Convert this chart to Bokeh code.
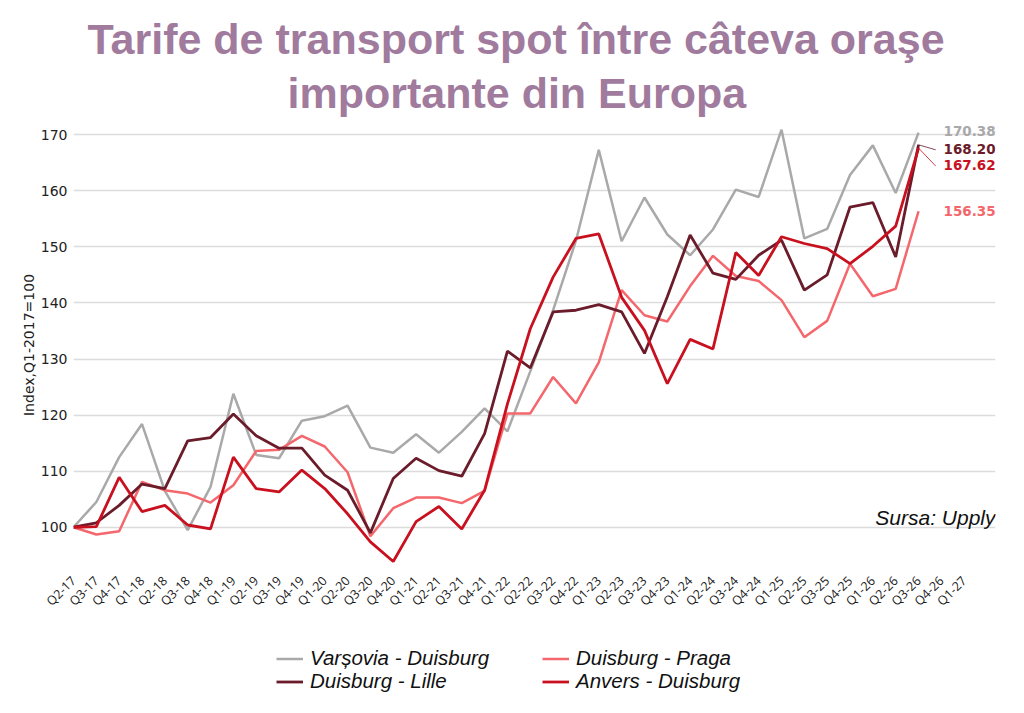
from math import pi
from bokeh.plotting import figure
from bokeh.layouts import column
from bokeh.models import (ColumnDataSource, FixedTicker, Legend, LegendItem,
                          Label, Title)
from bokeh.core.properties import value
from bokeh.embed import file_html
from bokeh.resources import INLINE

# ---------------- data ----------------
quarters = ["Q2-17", "Q3-17", "Q4-17", "Q1-18", "Q2-18", "Q3-18", "Q4-18",
            "Q1-19", "Q2-19", "Q3-19", "Q4-19", "Q1-20", "Q2-20", "Q3-20",
            "Q4-20", "Q1-21", "Q2-21", "Q3-21", "Q4-21", "Q1-22", "Q2-22",
            "Q3-22", "Q4-22", "Q1-23", "Q2-23", "Q3-23", "Q4-23", "Q1-24",
            "Q2-24", "Q3-24", "Q4-24", "Q1-25", "Q2-25", "Q3-25", "Q4-25",
            "Q1-26", "Q2-26", "Q3-26", "Q4-26", "Q1-27"]

varsovia_duisburg = [100.0, 104.5, 112.5, 118.4, 106.5, 99.5, 107.2, 123.8,
                     112.9, 112.3, 119.0, 119.8, 121.7, 114.2, 113.3, 116.6,
                     113.3, 117.0, 121.2, 117.1, 127.8, 138.7, 151.1, 167.3,
                     151.0, 158.8, 152.2, 148.5, 153.1, 160.2, 158.9, 170.9,
                     151.5, 153.2, 162.8, 168.1, 159.6, 170.38]

duisburg_praga = [100.0, 98.7, 99.3, 108.1, 106.6, 106.0, 104.4, 107.5,
                  113.6, 113.8, 116.3, 114.4, 109.8, 98.4, 103.4, 105.3,
                  105.3, 104.3, 106.5, 120.3, 120.3, 126.8, 122.1, 129.4,
                  142.3, 137.8, 136.7, 143.0, 148.4, 144.8, 143.9, 140.5,
                  133.9, 136.8, 147.0, 141.2, 142.5, 156.35]

duisburg_lille = [100.0, 100.8, 103.9, 107.7, 106.9, 115.4, 116.0, 120.2,
                  116.3, 114.1, 114.1, 109.3, 106.6, 99.0, 108.7, 112.3,
                  110.1, 109.1, 116.7, 131.4, 128.4, 138.4, 138.7, 139.7,
                  138.4, 131.0, 141.1, 152.1, 145.3, 144.2, 148.5, 151.2,
                  142.3, 145.0, 157.1, 157.9, 148.2, 168.20]

anvers_duisburg = [100.0, 100.1, 108.9, 102.8, 103.9, 100.4, 99.7, 112.5,
                   106.9, 106.3, 110.2, 106.9, 102.4, 97.4, 93.9, 101.0,
                   103.7, 99.7, 106.6, 122.0, 135.4, 144.6, 151.5, 152.3,
                   141.0, 135.1, 125.6, 133.5, 131.8, 149.0, 144.9, 151.8,
                   150.6, 149.7, 147.0, 150.1, 153.7, 167.62]

series_names = ["Varșovia - Duisburg", "Duisburg - Praga",
                "Duisburg - Lille", "Anvers - Duisburg"]
y_ticks = [100, 110, 120, 130, 140, 150, 160, 170]
title_lines = ["Tarife de transport spot între câteva oraşe",
               "importante din Europa"]

# ---------------- styles ----------------
colors = ["#a9a9a9", "#f4676c", "#6b1c2b", "#c8101f"]
widths = [2.5, 2.5, 2.8, 2.8]
label_dy_px = [-2, 0, 4, 17]       # vertical nudges of end labels (px)
TITLE_COLOR = "#a07b9d"

series = [varsovia_duisburg, duisburg_praga, duisburg_lille, anvers_duisburg]

Y0, Y1 = 93.0, 172.0
X0, X1 = 0, 40.37
W, H = 1020, 645
MB_L, MB_R, MB_T, MB_B = 73, 25, 123, 79
ppu_y = (H - MB_T - MB_B) / (Y1 - Y0)

p = figure(width=W, height=H, x_range=(X0, X1), y_range=(Y0, Y1),
           output_backend="svg", toolbar_location=None,
           min_border_left=MB_L, min_border_right=MB_R,
           min_border_top=MB_T, min_border_bottom=MB_B)
p.outline_line_color = None
p.background_fill_color = "white"

# title: two lines (second line added first -> closest to the plot)
for txt, off, so in [(title_lines[1], 214, 14), (title_lines[0], 14, -6)]:
    p.add_layout(Title(text=txt, align="left", offset=off, standoff=so,
                       text_font="Liberation Sans", text_font_style="bold",
                       text_font_size="43px", text_color=TITLE_COLOR), "above")

# axes
p.xaxis.ticker = FixedTicker(ticks=list(range(len(quarters))))
p.xaxis.major_label_overrides = {i: q for i, q in enumerate(quarters)}
p.xaxis.major_label_orientation = pi / 4
p.xaxis.major_label_text_font = "Open Sans"
p.xaxis.major_label_text_font_size = "12.5px"
p.xaxis.major_label_text_color = "#1a1a1a"
p.xaxis.axis_line_color = None
p.xaxis.major_tick_line_color = None
p.xaxis.minor_tick_line_color = None
p.xaxis.major_label_standoff = 6

p.yaxis.ticker = FixedTicker(ticks=y_ticks)
p.yaxis.major_label_text_font = "DejaVu Sans"
p.yaxis.major_label_text_font_size = "14px"
p.yaxis.major_label_text_color = "#222222"
p.yaxis.axis_line_color = None
p.yaxis.major_tick_line_color = None
p.yaxis.minor_tick_line_color = None
p.yaxis.major_label_standoff = 0
p.yaxis.axis_label = "Index,Q1-2017=100"
p.yaxis.axis_label_text_font = "DejaVu Sans"
p.yaxis.axis_label_text_font_size = "14px"
p.yaxis.axis_label_text_font_style = "normal"
p.yaxis.axis_label_text_color = "#222222"
p.yaxis.axis_label_standoff = 1

p.xgrid.grid_line_color = None
p.ygrid.grid_line_color = "#dcdcdc"
p.ygrid.grid_line_width = 1.5

# lines
for name, vals, c, w in zip(series_names, series, colors, widths):
    src = ColumnDataSource(dict(x=list(range(len(vals))), y=vals))
    p.line("x", "y", source=src, line_color=c, line_width=w)

# end labels
last_x = [len(v) - 1 for v in series]
last_y = [v[-1] for v in series]
p.text(x=last_x, y=last_y, text=["%.2f" % v for v in last_y],
       x_offset=25, y_offset=label_dy_px, text_color=colors,
       text_font=value("DejaVu Sans"), text_font_style="bold",
       text_font_size="13.5px", text_baseline="middle", text_align="left")

# leader lines for the two crowded labels
lead_idx = [2, 3]
lead_dx = 0.75
p.segment(x0=[last_x[i] for i in lead_idx],
          y0=[last_y[i] for i in lead_idx],
          x1=[last_x[i] + lead_dx for i in lead_idx],
          y1=[last_y[i] - (label_dy_px[i] + 1) / ppu_y for i in lead_idx],
          line_color=[colors[i] for i in lead_idx], line_width=1, line_alpha=0.8)

# source
p.add_layout(Label(x=X1, y=101.8, text="Sursa: Upply", text_align="right",
                   text_baseline="alphabetic", text_font="Liberation Sans",
                   text_font_style="italic", text_font_size="21px",
                   text_color="#111111"))

# ---------------- legend strip (separate figure below) ----------------
LG_H = 65
lg = figure(width=W, height=LG_H, x_range=(0, 1), y_range=(0, 1),
            output_backend="svg", toolbar_location=None,
            x_axis_type=None, y_axis_type=None,
            min_border_left=0, min_border_right=0,
            min_border_top=0, min_border_bottom=0)
lg.outline_line_color = None
lg.xgrid.visible = False
lg.ygrid.visible = False
# legend keys: same series, lying outside this strip's (0..1) range
keys = [lg.line(x=list(range(len(v))), y=v, line_color=c, line_width=w)
        for v, c, w in zip(series, colors, widths)]

# positions (px, relative to the strip's frame) for the 2 x 2 legend grid
legend_pos = [(203, 40), (469, 40), (203, 17), (469, 17)]
for i, loc in enumerate(legend_pos):
    leg = Legend(items=[LegendItem(label=series_names[i], renderers=[keys[i]])],
                 location=loc, orientation="vertical")
    leg.label_text_font = "Liberation Sans"
    leg.label_text_font_style = "italic"
    leg.label_text_font_size = "20.5px"
    leg.label_text_color = "#111111"
    leg.glyph_width = 27
    leg.glyph_height = 23
    leg.label_height = 23
    leg.label_standoff = 7
    leg.spacing = 0
    leg.padding = 0
    leg.margin = 0
    leg.border_line_color = None
    leg.background_fill_alpha = 0
    lg.add_layout(leg)

open("out.html", "w").write(file_html(column(p, lg), INLINE))
